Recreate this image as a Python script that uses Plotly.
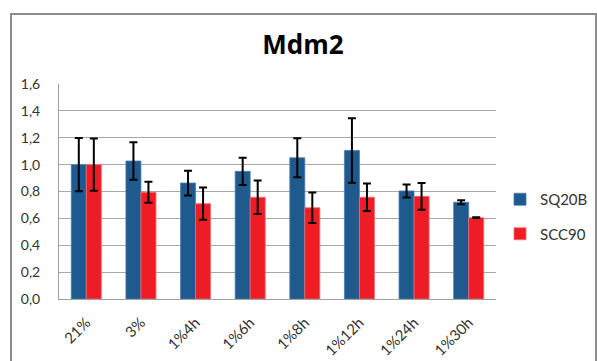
import plotly.graph_objects as go

categories = ["21%", "3%", "1%4h", "1%6h", "1%8h", "1%12h", "1%24h", "1%30h"]
sq20b = [1.00, 1.027, 0.863, 0.95, 1.051, 1.106, 0.804, 0.72]
sq20b_err = [0.198, 0.14, 0.092, 0.102, 0.145, 0.24, 0.048, 0.014]
scc90 = [1.00, 0.794, 0.709, 0.757, 0.679, 0.757, 0.764, 0.605]
scc90_err = [0.195, 0.078, 0.12, 0.124, 0.113, 0.103, 0.1, 0.003]
y_ticks = [0, 0.2, 0.4, 0.6, 0.8, 1.0, 1.2, 1.4, 1.6]

fig = go.Figure()
fig.add_trace(go.Bar(
    name="SQ20B", x=categories, y=sq20b, legendgroup="a",
    marker=dict(color="#1F5A8F", line=dict(color="#4C7DAE", width=0.8)),
    error_y=dict(type="data", array=sq20b_err, color="black", thickness=2, width=4),
))
fig.add_trace(go.Bar(
    name="SCC90", x=categories, y=scc90, legendgroup="b",
    marker=dict(color="#EE1C25", line=dict(color="#F26B6F", width=0.8)),
    error_y=dict(type="data", array=scc90_err, color="black", thickness=2, width=4),
))

L, R, T, B = 59, 496, 84, 299
W, H = 597, 361
pw, ph = R - L, B - T

def px(x):
    return (x - L) / pw

def py(y):
    return (B - y) / ph

fig.update_layout(
    width=W, height=H,
    margin=dict(l=L, r=W - R, t=T, b=H - B, pad=0, autoexpand=False),
    paper_bgcolor="white", plot_bgcolor="white",
    barmode="group", bargap=0.45, bargroupgap=0,
    separators=",.",
    font=dict(family="Lato, Open Sans, sans-serif", color="#333333"),
    title=dict(text="<b>Mdm2</b>", x=303 / W, xref="container", xanchor="center",
               y=1 - 45 / H, yref="container", yanchor="middle",
               font=dict(size=26, color="black", family="Open Sans, sans-serif")),
    showlegend=True,
    legend=dict(xref="container", yref="container", x=500 / W, y=1 - 183 / H,
                xanchor="left", yanchor="top",
                font=dict(size=15, color="#333333"), tracegroupgap=12,
                itemwidth=30, bgcolor="rgba(0,0,0,0)"),
    xaxis=dict(tickangle=-45, tickfont=dict(size=15, color="#333333"),
               showline=True, linecolor="#A0A0A0", linewidth=1, ticks="",
               showgrid=False, automargin=False, ticklabelstandoff=8),
    yaxis=dict(range=[0, 1.6], tickvals=y_ticks, tickformat=".1f",
               tickfont=dict(size=14, color="#333333"),
               showgrid=True, gridcolor="#A8A8A8", gridwidth=1,
               showline=True, linecolor="#A0A0A0", linewidth=1,
               ticks="", zeroline=False, ticklabelstandoff=15, automargin=False),
    shapes=[dict(type="rect", xref="paper", yref="paper",
                 x0=px(11), x1=px(596), y0=py(380), y1=py(14),
                 line=dict(color="#8C8C8C", width=2), layer="below")],
)

fig.write_html("out.html", config={"displayModeBar": False},
               post_script="document.body.style.margin='0';")
